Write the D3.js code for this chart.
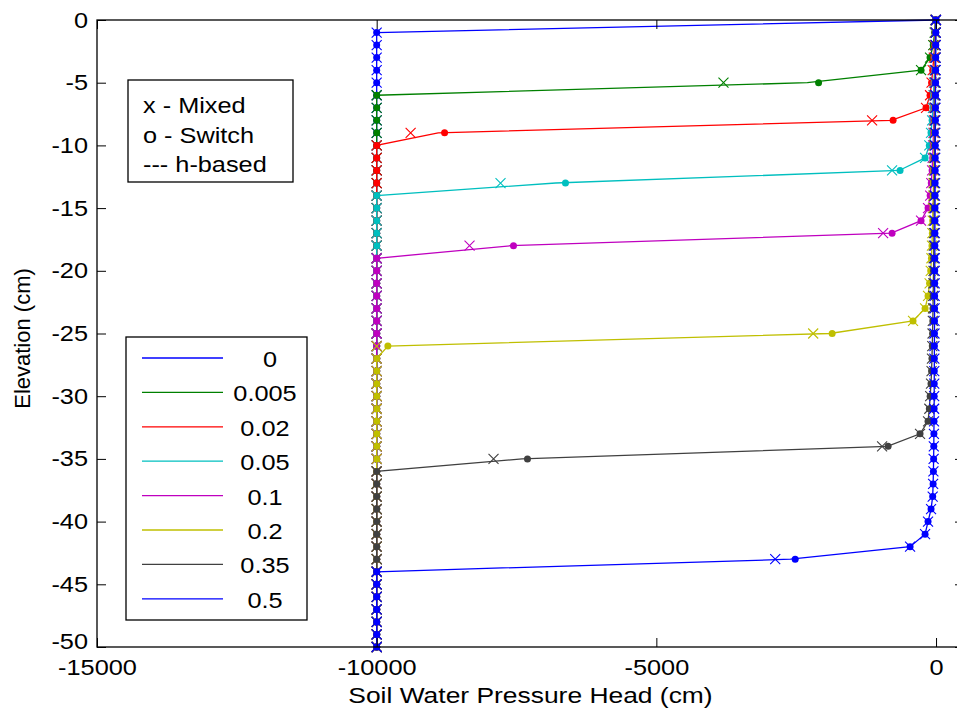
<!DOCTYPE html>
<html>
<head>
<meta charset="utf-8">
<script src="https://cdn.jsdelivr.net/npm/d3@7/dist/d3.min.js"></script>
<style>
  html, body { margin: 0; padding: 0; background: #fff; }
  svg { display: block; }
  text { font-family: Arial, "Liberation Sans", sans-serif; fill: #000; }
</style>
</head>
<body>
<svg id="chart" width="957" height="715"></svg>
<script>
// ---------------- data ----------------
const seriesLabels = ["0", "0.005", "0.02", "0.05", "0.1", "0.2", "0.35", "0.5"];
const seriesColors = ["#0000ff", "#008000", "#ff0000", "#00bfbf", "#bf00bf", "#bfbf00", "#404040", "#0000ff"];
const initialHead = -10000;                 // dry initial condition below the front
const nodeDepths = d3.range(0, -51, -1);    // node elevations 0 ... -50 cm

// pressure head (cm) at nodes from z = 0 downward, until the dry initial condition
const mixedHead = [
  [0],
  [-10, -25, -50, -107, -268, -3800],
  [-8, -15, -25, -40, -60, -80, -107, -179, -1143, -9393],
  [-6, -10, -15, -20, -28, -36, -45, -55, -70, -90, -120, -196, -786, -7786],
  [-5, -8, -12, -16, -20, -25, -30, -35, -40, -46, -52, -60, -70, -85, -105, -143, -268, -946, -8340],
  [-5, -7, -10, -13, -16, -19, -22, -25, -28, -31, -34, -38, -42, -46, -50, -55, -60, -66, -73, -82, -95, -115, -143, -196, -411, -2196, -10000],
  [-4, -6, -8, -10, -12, -14, -16, -18, -20, -22, -24, -26, -28, -30, -32, -34, -36, -38, -40, -42, -45, -48, -51, -54, -58, -62, -67, -73, -80, -90, -105, -120, -143, -286, -964, -7911],
  [-3, -4, -5, -6, -7, -8, -9, -10, -11, -12, -13, -14, -15, -16, -17, -18, -19, -20, -21, -22, -23, -24, -25, -26, -27, -28, -29, -30, -31, -32, -33, -34, -36, -38, -40, -43, -47, -52, -60, -89, -143, -196, -464, -2875]
];
const switchHead = [
  [0],
  [-10, -25, -50, -107, -268, -2100],
  [-8, -15, -25, -40, -60, -80, -107, -179, -768, -8786],
  [-6, -10, -15, -20, -28, -36, -45, -55, -70, -90, -120, -196, -643, -6625],
  [-5, -8, -12, -16, -20, -25, -30, -35, -40, -46, -52, -60, -70, -85, -105, -143, -268, -786, -7554],
  [-5, -7, -10, -13, -16, -19, -22, -25, -28, -31, -34, -38, -42, -46, -50, -55, -60, -66, -73, -82, -95, -115, -143, -196, -411, -1857, -9800],
  [-4, -6, -8, -10, -12, -14, -16, -18, -20, -22, -24, -26, -28, -30, -32, -34, -36, -38, -40, -42, -45, -48, -51, -54, -58, -62, -67, -73, -80, -90, -105, -120, -143, -286, -857, -7304],
  [-3, -4, -5, -6, -7, -8, -9, -10, -11, -12, -13, -14, -15, -16, -17, -18, -19, -20, -21, -22, -23, -24, -25, -26, -27, -28, -29, -30, -31, -32, -33, -34, -36, -38, -40, -43, -47, -52, -60, -89, -143, -196, -464, -2518]
];
// h-based solution (drawn as the line)
const hBasedHead = [
  [0],
  [-10, -25, -50, -107, -268, -2300],
  [-8, -15, -25, -40, -60, -80, -107, -179, -800, -8900],
  [-6, -10, -15, -20, -28, -36, -45, -55, -70, -90, -120, -196, -660, -6800],
  [-5, -8, -12, -16, -20, -25, -30, -35, -40, -46, -52, -60, -70, -85, -105, -143, -268, -800, -7600],
  [-5, -7, -10, -13, -16, -19, -22, -25, -28, -31, -34, -38, -42, -46, -50, -55, -60, -66, -73, -82, -95, -115, -143, -196, -411, -1900, -9800],
  [-4, -6, -8, -10, -12, -14, -16, -18, -20, -22, -24, -26, -28, -30, -32, -34, -36, -38, -40, -42, -45, -48, -51, -54, -58, -62, -67, -73, -80, -90, -105, -120, -143, -286, -870, -7400],
  [-3, -4, -5, -6, -7, -8, -9, -10, -11, -12, -13, -14, -15, -16, -17, -18, -19, -20, -21, -22, -23, -24, -25, -26, -27, -28, -29, -30, -31, -32, -33, -34, -36, -38, -40, -43, -47, -52, -60, -89, -143, -196, -464, -2600]
];

const xTicks = [-15000, -10000, -5000, 0];
const yTicks = [0, -5, -10, -15, -20, -25, -30, -35, -40, -45, -50];
const methodNotes = ["x - Mixed", "o - Switch", "--- h-based"];
const xTitle = "Soil Water Pressure Head (cm)";
const yTitle = "Elevation (cm)";

// ---------------- layout ----------------
const svg = d3.select("#chart");
const L = 97, T = 20, B = 647, R = 964;
const FS = 22, STRETCH = 1.15;

const x = d3.scaleLinear().domain([-15000, 500]).range([L, R]);
const y = d3.scaleLinear().domain([-50, 0]).range([B, T]);

function stretch(sel, f) {
  sel.each(function () {
    const w = this.getComputedTextLength();
    d3.select(this).attr("textLength", w * f).attr("lengthAdjust", "spacingAndGlyphs");
  });
}

svg.append("rect").attr("x", 0).attr("y", 0).attr("width", 957).attr("height", 715).attr("fill", "#fff");

// ---------------- data marks ----------------
const profile = wet => nodeDepths.map((z, i) => ({ z, h: i < wet.length ? wet[i] : initialHead }));
const line = d3.line().x(d => x(d.h)).y(d => y(d.z));
const xMark = "M-5,-5L5,5M-5,5L5,-5";

const dataG = svg.append("g");
seriesLabels.forEach((lab, i) => {
  const col = seriesColors[i];
  const pm = profile(mixedHead[i]);
  const ps = profile(switchHead[i]);
  const ph = profile(hBasedHead[i]);
  const g = dataG.append("g");
  g.append("path").datum(ph).attr("d", line).attr("fill", "none")
    .attr("stroke", col).attr("stroke-width", 1.3);
  g.selectAll("path.mx").data(pm).enter().append("path").attr("class", "mx")
    .attr("d", xMark).attr("transform", d => `translate(${x(d.h)},${y(d.z)})`)
    .attr("fill", "none").attr("stroke", col).attr("stroke-width", 1.1);
  g.selectAll("circle.sw").data(ps).enter().append("circle").attr("class", "sw")
    .attr("cx", d => x(d.h)).attr("cy", d => y(d.z)).attr("r", 3.5).attr("fill", col);
});

// ---------------- axes ----------------
const axL = svg.append("g").attr("transform", `translate(${L},0)`)
  .call(d3.axisLeft(y).tickValues(yTicks).tickSize(-9).tickSizeOuter(0).tickPadding(9));
const axB = svg.append("g").attr("transform", `translate(0,${B})`)
  .call(d3.axisBottom(x).tickValues(xTicks).tickSize(-9).tickSizeOuter(0).tickPadding(12).tickFormat(d3.format("d")));
svg.append("g").attr("transform", `translate(0,${T})`)
  .call(d3.axisTop(x).tickValues(xTicks).tickSize(-9).tickSizeOuter(0).tickFormat(""));
svg.append("g").attr("transform", `translate(${R},0)`)
  .call(d3.axisRight(y).tickValues(yTicks).tickSize(-9).tickSizeOuter(0).tickFormat(""));
svg.selectAll(".domain").remove();
svg.selectAll(".tick line").attr("stroke", "#000").attr("stroke-width", 1);
[axL, axB].forEach(a => a.selectAll("text").attr("font-size", FS).attr("font-family", "Arial, 'Liberation Sans', sans-serif").attr("fill", "#000"));
axB.selectAll("text").text(d => String(d));
axL.selectAll("text").text(d => String(d));
// lowest y label sits a little higher so it clears the x labels
axL.selectAll("text").filter(d => d === -50).attr("dy", "0.05em");
stretch(axL.selectAll("text"), STRETCH);
stretch(axB.selectAll("text"), STRETCH);

// frame
svg.append("rect").attr("x", L).attr("y", T).attr("width", R - L).attr("height", B - T)
  .attr("fill", "none").attr("stroke", "#000").attr("stroke-width", 1.3);

// titles
const xt = svg.append("text").attr("x", (L + R) / 2).attr("y", 703).attr("text-anchor", "middle")
  .attr("font-size", FS).text(xTitle);
stretch(xt, 1.2);
svg.append("text").attr("transform", `translate(30,${(T + B) / 2 + 5}) rotate(-90)`)
  .attr("text-anchor", "middle").attr("font-size", FS).text(yTitle);

// ---------------- method note box ----------------
svg.append("rect").attr("x", 128).attr("y", 80).attr("width", 165).attr("height", 102)
  .attr("fill", "#fff").attr("stroke", "#000").attr("stroke-width", 1.3);
const notes = svg.append("g").selectAll("text").data(methodNotes).enter().append("text")
  .attr("x", 143).attr("y", (d, i) => 113 + i * 29.5).attr("font-size", FS).text(d => d);
stretch(notes, STRETCH);

// ---------------- series legend ----------------
svg.append("rect").attr("x", 126).attr("y", 337).attr("width", 181).attr("height", 283)
  .attr("fill", "#fff").attr("stroke", "#000").attr("stroke-width", 1.3);
const lg = svg.append("g").selectAll("g").data(seriesLabels).enter().append("g")
  .attr("transform", (d, i) => `translate(0,${358 + i * 34.4})`);
lg.append("line").attr("x1", 142).attr("x2", 223).attr("y1", 0).attr("y2", 0)
  .attr("stroke", (d, i) => seriesColors[i]).attr("stroke-width", 1.3);
const lt = lg.append("text").attr("x", (d, i) => i === 0 ? 270 : 265).attr("y", 9).attr("text-anchor", "middle")
  .attr("font-size", FS).text(d => d);
stretch(lt, STRETCH);
</script>
</body>
</html>
